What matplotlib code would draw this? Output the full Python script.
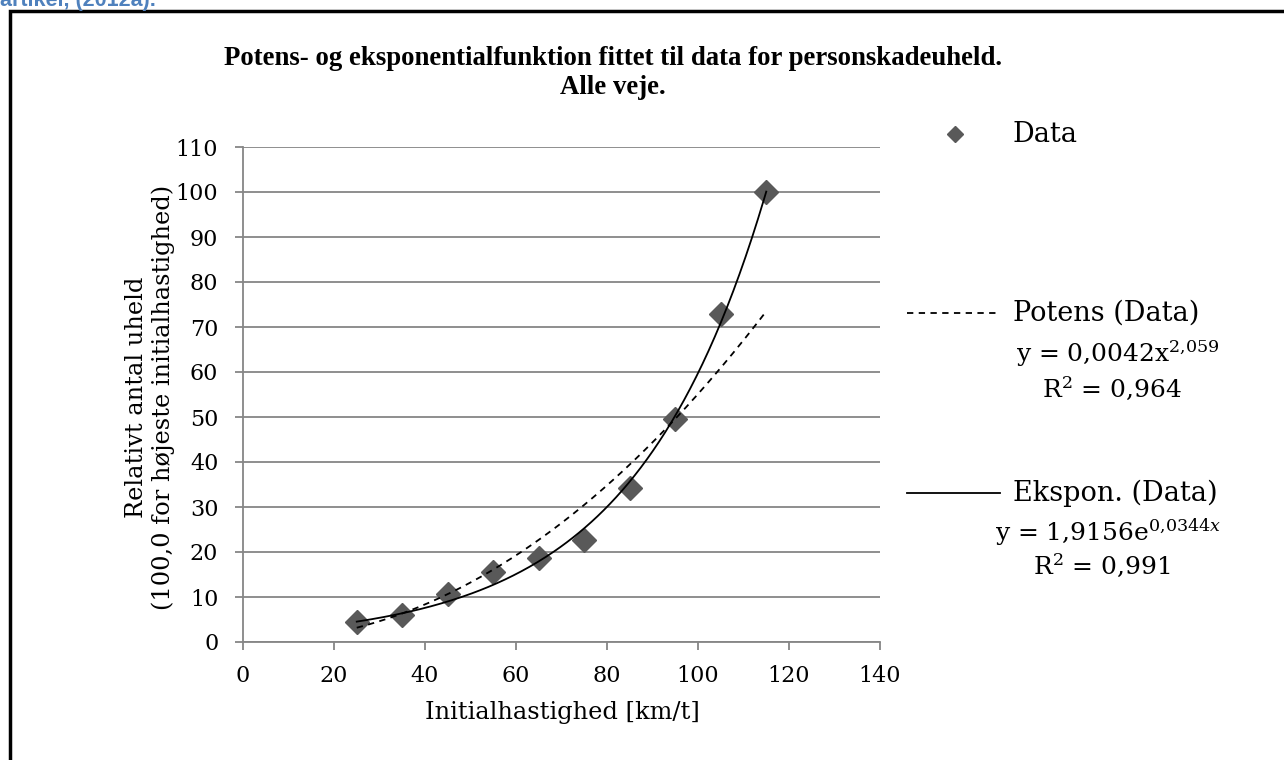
import numpy as np
import matplotlib
matplotlib.use("Agg")
import matplotlib.pyplot as plt
from matplotlib.lines import Line2D
from matplotlib.patches import Rectangle

# ---- data ----
speed = [25, 35, 45, 55, 65, 75, 85, 95, 105, 115]
rel_accidents = [4.4, 6.1, 10.6, 15.5, 18.7, 22.6, 34.3, 49.6, 72.9, 100.0]
pow_a, pow_b = 0.0042, 2.059
exp_a, exp_b = 1.9156, 0.0344
x_ticks = [0, 20, 40, 60, 80, 100, 120, 140]
y_ticks = [0, 10, 20, 30, 40, 50, 60, 70, 80, 90, 100, 110]

title = "Potens- og eksponentialfunktion fittet til data for personskadeuheld.\nAlle veje."
xlabel = "Initialhastighed [km/t]"
ylabel = "Relativt antal uheld\n(100,0 for højeste initialhastighed)"

plt.rcParams['mathtext.fontset'] = 'dejavuserif'
SERIF = 'DejaVu Serif'
GRID = '#868686'
MARK = '#595959'

fig = plt.figure(figsize=(12.84, 7.6), dpi=100)
W, H = 1284, 760
def fx(px): return px / W
def fy(py): return 1 - py / H

ax = fig.add_axes([fx(243), fy(642), fx(880) - fx(243), fy(147) - fy(642)])

xs = np.linspace(min(speed), max(speed), 200)
ax.plot(xs, pow_a * xs ** pow_b, color='black', lw=1.3, ls=(0, (3.5, 3)), zorder=4)
ax.plot(xs, exp_a * np.exp(exp_b * xs), color='black', lw=1.3, zorder=4)
ax.plot(speed, rel_accidents, ls='none', marker='D', ms=12, color=MARK, zorder=3)

ax.set_xlim(0, 140)
ax.set_ylim(0, 110)
ax.set_xticks(x_ticks)
ax.set_yticks(y_ticks)
ax.set_xticklabels([str(v) for v in x_ticks], fontfamily=SERIF, fontsize=16)
ax.set_yticklabels([str(v) for v in y_ticks], fontfamily=SERIF, fontsize=16)
ax.yaxis.grid(True, color=GRID, lw=1.3)
ax.set_axisbelow(True)
for s in ['top', 'right']:
    ax.spines[s].set_visible(False)
for s in ['left', 'bottom']:
    ax.spines[s].set_color(GRID)
    ax.spines[s].set_linewidth(1.3)
ax.tick_params(axis='both', color=GRID, width=1.3, length=5.8, direction='out')
ax.tick_params(axis='x', pad=11)
ax.tick_params(axis='y', pad=12)

fig.text(0.5 * (fx(226) + fx(1000)), fy(73), title, ha='center', va='center',
         fontfamily='Liberation Serif', fontsize=19.3, fontweight='bold', linespacing=1.2)
fig.text(fx(562), fy(712), xlabel, ha='center', va='center', fontfamily=SERIF, fontsize=17.4)
fig.text(fx(150), fy(397), ylabel, ha='center', va='center', rotation=90,
         fontfamily=SERIF, fontsize=17.4, linespacing=1.15)

# legend (manual)
LFS = 19.5
EFS = 18
fig.add_artist(Line2D([fx(955)], [fy(134)], marker='D', ms=8, color=MARK, ls='none',
                      transform=fig.transFigure))
fig.text(fx(1013), fy(134), "Data", ha='left', va='center', fontfamily=SERIF, fontsize=LFS)
fig.add_artist(Line2D([fx(907), fx(1000)], [fy(313), fy(313)], color='black', lw=1.3,
                      ls=(0, (3.5, 3)), transform=fig.transFigure))
fig.text(fx(1013), fy(313), "Potens (Data)", ha='left', va='center', fontfamily=SERIF, fontsize=LFS)
fig.text(fx(1118), fy(354), r"y = 0,0042x$^{2{,}059}$", ha='center', va='center',
         fontfamily=SERIF, fontsize=EFS)
fig.text(fx(1112), fy(388), r"R$^{2}$ = 0,964", ha='center', va='center',
         fontfamily=SERIF, fontsize=EFS)
fig.add_artist(Line2D([fx(907), fx(1000)], [fy(493), fy(493)], color='black', lw=1.3,
                      transform=fig.transFigure))
fig.text(fx(1013), fy(493), "Ekspon. (Data)", ha='left', va='center', fontfamily=SERIF, fontsize=LFS)
fig.text(fx(1108), fy(532), r"y = 1,9156e$^{0{,}0344x}$", ha='center', va='center',
         fontfamily=SERIF, fontsize=EFS)
fig.text(fx(1102), fy(565), r"R$^{2}$ = 0,991", ha='center', va='center',
         fontfamily=SERIF, fontsize=EFS)

# outer frame (extends past right/bottom edges)
fig.add_artist(Rectangle((fx(9.5), fy(800)), 1.2, fy(11) - fy(800), fill=False,
                         edgecolor='black', lw=2.5, transform=fig.transFigure))
fig.text(fx(0), fy(6), "artikel, (2012a).", ha='left', va='baseline', color='#4F81BD',
         fontfamily='Liberation Sans', fontweight='bold', fontsize=15.5)

fig.savefig('out.png', dpi=100)
